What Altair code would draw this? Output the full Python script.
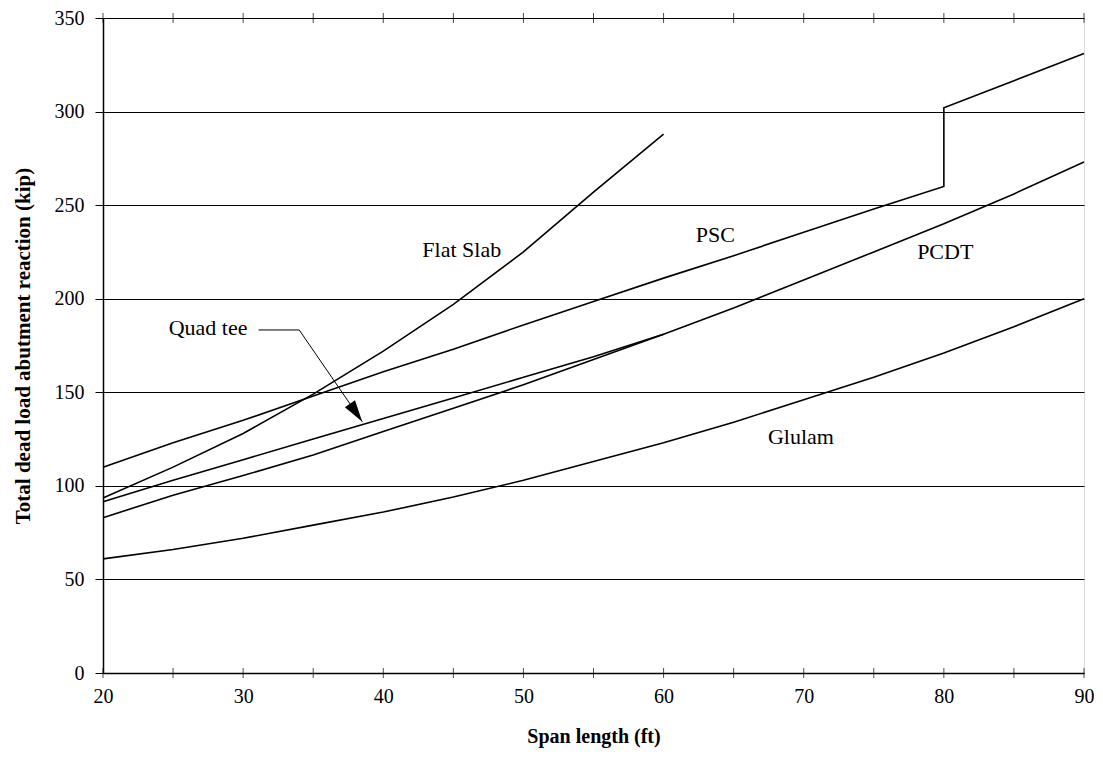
import altair as alt
import pandas as pd

# ---- data ----
spans = [20, 25, 30, 35, 40, 45, 50, 55, 60, 65, 70, 75, 80, 85, 90]
flat_slab = [93.5, 110, 128, 149, 172, 197, 225, 257, 288]          # 20..60
quad_tee = [91.5, 103, 114, 125, 136, 147, 158, 169, 181]          # 20..60
pcdt = [83, 95, 105.5, 116.5, 129, 141.5, 154, 167.5, 181, 195, 210, 225, 240, 256, 273]
glulam = [61, 66, 72, 79, 86, 94, 103, 113, 123, 134, 146, 158, 171, 185, 200]
psc_x = [20, 25, 30, 35, 40, 45, 50, 55, 60, 65, 70, 75, 80, 80, 85, 90]
psc_y = [110, 123, 135, 148, 161, 173, 186, 198.5, 211, 223, 235.5, 248, 260, 302, 316.5, 331]

label_text = ["Flat Slab", "PSC", "PCDT", "Glulam", "Quad tee"]
label_x = [45.6, 63.7, 80.1, 69.8, 27.5]
label_y = [226, 234, 225, 126, 184.4]

leader_x = [31.1, 34.0, 38.5]
leader_y = [183.3, 183.3, 134.3]

x_ticks = [20, 25, 30, 35, 40, 45, 50, 55, 60, 65, 70, 75, 80, 85, 90]
x_labels = [20, 30, 40, 50, 60, 70, 80, 90]
y_ticks = [0, 50, 100, 150, 200, 250, 300, 350]

# ---- tables ----
rows = []
def add(name, xs, ys):
    for i, (a, b) in enumerate(zip(xs, ys)):
        rows.append({"series": name, "x": a, "y": b, "ord": i})

add("Flat Slab", spans[:len(flat_slab)], flat_slab)
add("Quad tee", spans[:len(quad_tee)], quad_tee)
add("PCDT", spans, pcdt)
add("Glulam", spans, glulam)
add("PSC", psc_x, psc_y)
lines_df = pd.DataFrame(rows)

labels_df = pd.DataFrame({"text": label_text, "x": label_x, "y": label_y})
leader_df = pd.DataFrame({"x": leader_x, "y": leader_y, "ord": list(range(len(leader_x)))})
tip_df = pd.DataFrame({"x": [leader_x[-1]], "y": [leader_y[-1]]})
ticks_df = pd.DataFrame(
    [{"x": t, "y": 0} for t in x_ticks] + [{"x": t, "y": 350} for t in x_ticks]
)

FONT = "Liberation Serif"

xscale = alt.Scale(domain=[20, 90], nice=False, zero=False)
yscale = alt.Scale(domain=[0, 350], nice=False)

xaxis = alt.Axis(
    values=x_labels, grid=False, ticks=False, domain=True, domainColor="black",
    domainWidth=1.5, labelPadding=13, labelFontSize=20, labelFont=FONT,
    labelColor="black", labelFlush=False, title="Span length (ft)", titleFont=FONT,
    titleFontSize=20, titleFontWeight="bold", titleColor="black", titlePadding=20,
)
yaxis = alt.Axis(
    values=y_ticks, grid=True, gridColor="black", gridWidth=1, gridOpacity=1,
    ticks=True, tickSize=8, tickColor="black", tickWidth=1, domain=True,
    domainColor="black", domainWidth=1.5, labelPadding=11, labelFontSize=20,
    labelFont=FONT, labelColor="black", labelFlush=False,
    title="Total dead load abutment reaction (kip)", titleFont=FONT,
    titleFontSize=21, titleFontWeight="bold", titleColor="black", titlePadding=21,
)

base_lines = alt.Chart(lines_df).mark_line(color="black", strokeWidth=1.6).encode(
    x=alt.X("x:Q", scale=xscale, axis=xaxis),
    y=alt.Y("y:Q", scale=yscale, axis=yaxis),
    detail="series:N",
    order="ord:Q",
)

tick_layer = alt.Chart(ticks_df).mark_tick(
    orient="vertical", size=10, thickness=1, color="black"
).encode(x=alt.X("x:Q", scale=xscale), y=alt.Y("y:Q", scale=yscale))

label_layer = alt.Chart(labels_df).mark_text(
    font=FONT, fontSize=22, color="black", align="center", baseline="middle"
).encode(x=alt.X("x:Q", scale=xscale), y=alt.Y("y:Q", scale=yscale), text="text:N")

leader_layer = alt.Chart(leader_df).mark_line(color="black", strokeWidth=1).encode(
    x=alt.X("x:Q", scale=xscale), y=alt.Y("y:Q", scale=yscale), order="ord:Q"
)

arrow_layer = alt.Chart(tip_df).mark_point(
    shape="M0,0 L-0.28,-1 L0.28,-1 Z", size=1900, filled=True, color="black",
    opacity=1, angle=325.6, strokeWidth=0,
).encode(x=alt.X("x:Q", scale=xscale), y=alt.Y("y:Q", scale=yscale))

chart = alt.layer(
    base_lines, leader_layer, arrow_layer, label_layer, tick_layer
).properties(
    width=981, height=655, padding={"left": 4, "top": 0, "right": 0, "bottom": 4},
    background="white",
).configure_view(
    stroke="#888888", strokeWidth=1.5
).configure_axis(
    labelFont=FONT, titleFont=FONT
).configure_text(font=FONT).configure(font=FONT)

chart.save("out.html", embed_options={"renderer": "svg", "actions": False})
